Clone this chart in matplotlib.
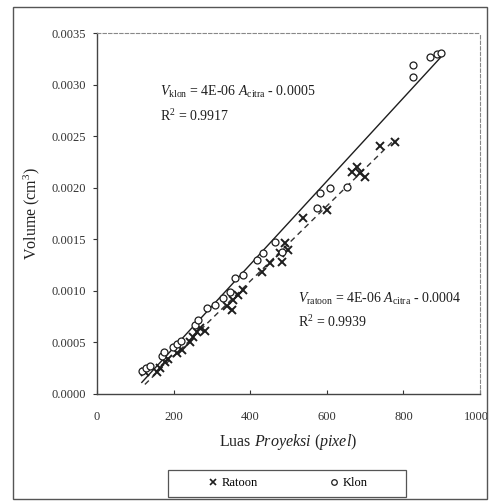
import numpy as np
import matplotlib
matplotlib.use("Agg")
import matplotlib.pyplot as plt
import matplotlib.transforms as mtransforms
from matplotlib.lines import Line2D
from matplotlib.patches import Rectangle

plt.rcParams['font.family'] = ['Liberation Serif', 'DejaVu Serif']
plt.rcParams['mathtext.fontset'] = 'custom'
plt.rcParams['mathtext.rm'] = 'Liberation Serif'
plt.rcParams['mathtext.it'] = 'Liberation Serif:italic'
plt.rcParams['mathtext.bf'] = 'Liberation Serif:bold'

# ---- data ----
klon_area = [117, 128, 138, 170, 175, 198, 209, 219, 256, 264, 287, 308, 329, 347,
             360, 381, 418, 433, 465, 483, 574, 582, 608, 653, 825, 825, 869, 888, 898]
klon_vol = [0.000223, 0.000252, 0.000271, 0.000368, 0.000407, 0.000456, 0.000485,
            0.000514, 0.000669, 0.000717, 0.000834, 0.000863, 0.000931, 0.000989,
            0.001125, 0.001154, 0.001299, 0.001367, 0.001474, 0.001377, 0.001803,
            0.001949, 0.001997, 0.002007, 0.003190, 0.003073, 0.003267, 0.003296,
            0.003306]

ratoon_area = [125, 157, 164, 178, 185, 209, 222, 243, 251, 261, 269, 282, 339, 352,
               355, 368, 381, 431, 452, 478, 483, 491, 499, 538, 601, 666, 679, 687,
               700, 739, 778]
ratoon_vol = [0.000213, 0.000213, 0.000252, 0.000310, 0.000339, 0.000398, 0.000427,
              0.000504, 0.000553, 0.000601, 0.000640, 0.000611, 0.000853, 0.000814,
              0.000911, 0.000960, 0.001008, 0.001183, 0.001270, 0.001367, 0.001280,
              0.001464, 0.001396, 0.001706, 0.001784, 0.002152, 0.002201, 0.002143,
              0.002104, 0.002405, 0.002443]

x_ticks = [0, 200, 400, 600, 800, 1000]
y_ticks = [0.0, 0.0005, 0.0010, 0.0015, 0.0020, 0.0025, 0.0030, 0.0035]

eq_klon = r"$V_{\rm klon}$ = 4E-06 $A_{\rm citra}$ - 0.0005"
r2_klon = r"R$^{2}$ = 0.9917"
eq_ratoon = r"$V_{\rm ratoon}$ = 4E-06 $A_{\rm citra}$ - 0.0004"
r2_ratoon = r"R$^{2}$ = 0.9939"

ink = '#1e1e1e'

fig = plt.figure(figsize=(4.9, 5.03), dpi=100)
ax = fig.add_axes([97/490, 1-394/503, 383/490, 361/503])

# outer frame
fig.add_artist(Rectangle((13/490, 1-499/503), 474/490, 492/503, transform=fig.transFigure,
                         fill=False, edgecolor='#555555', linewidth=1.0))

# points
ax.plot(ratoon_area, ratoon_vol, linestyle='none', marker='x', markersize=5.5,
        markeredgewidth=1.4, color=ink, zorder=3)
ax.plot(klon_area, klon_vol, linestyle='none', marker='o', markersize=5,
        markerfacecolor='white', markeredgewidth=0.9, markeredgecolor=ink, zorder=4)

# trend lines (linear fits of the data)
kx = np.array(klon_area, float); ky = np.array(klon_vol, float)
rx = np.array(ratoon_area, float); ry = np.array(ratoon_vol, float)
kp = np.polyfit(kx, ky, 1)
rp = np.polyfit(rx, ry, 1)
kl = np.array([kx.min(), kx.max()])
rl = np.array([rx.min(), rx.max()])
ax.plot(kl, np.polyval(kp, kl), color=ink, linewidth=1.0, zorder=2)
ax.plot(rl, np.polyval(rp, rl), color='#333333', linewidth=1.0, dashes=(4, 3), zorder=2)

ax.set_xlim(0, 1000)
ax.set_ylim(0, 0.0035)
ax.set_xticks(x_ticks)
ax.set_yticks(y_ticks)
ax.set_xticklabels([str(v) for v in x_ticks])
ax.set_yticklabels([f"{v:.4f}" for v in y_ticks])
ax.tick_params(axis='y', direction='out', length=3, width=0.8, pad=5, labelsize=9, colors='#333333')
ax.tick_params(axis='x', direction='in', length=3, width=0.8, pad=12, labelsize=9, colors='#333333')

# keep the last x tick label inside the canvas
last = ax.get_xticklabels()[-1]
last.set_transform(last.get_transform() + mtransforms.ScaledTranslation(-4/100, 0, fig.dpi_scale_trans))

for s in ['left', 'bottom']:
    ax.spines[s].set_color('#444444')
    ax.spines[s].set_linewidth(1.0)
for s in ['top', 'right']:
    ax.spines[s].set_color('#888888')
    ax.spines[s].set_linewidth(0.8)
    ax.spines[s].set_linestyle((0, (3, 2)))

ax.set_ylabel(r"Volume (cm$^{3}$)", fontsize=11.5, labelpad=7, color='#222222')
ax.set_xlabel(r"Luas $\it{Proyeksi}$ $\it{(pixel)}$", fontsize=11.5, labelpad=7, color='#222222')

# equations
ax.text(165, 0.00293, eq_klon, fontsize=10, color=ink, va='center')
ax.text(165, 0.00269, r2_klon, fontsize=10, color=ink, va='center')
tx = (298-97)/383*1000
ax.text(tx, 0.00092, eq_ratoon, fontsize=10, color=ink, va='center')
ax.text(tx, 0.00070, r2_ratoon, fontsize=10, color=ink, va='center')

# legend
fig.add_artist(Rectangle((168/490, 1-497/503), 238/490, 27/503, transform=fig.transFigure,
                         fill=False, edgecolor='#555555', linewidth=0.9))
handles = [Line2D([], [], linestyle='none', marker='x', markersize=4, markeredgewidth=1.2, color=ink),
           Line2D([], [], linestyle='none', marker='o', markersize=4, markerfacecolor='white',
                  markeredgewidth=0.9, markeredgecolor=ink)]
fig.legend(handles, ['Ratoon', 'Klon'], ncol=2, mode='expand', frameon=False,
           bbox_to_anchor=(200/490, 1-497/503, 176/490, 27/503), loc='center',
           fontsize=9, handlelength=0.6, handletextpad=0.4, borderpad=0.2)

fig.savefig('out.png', dpi=100)
